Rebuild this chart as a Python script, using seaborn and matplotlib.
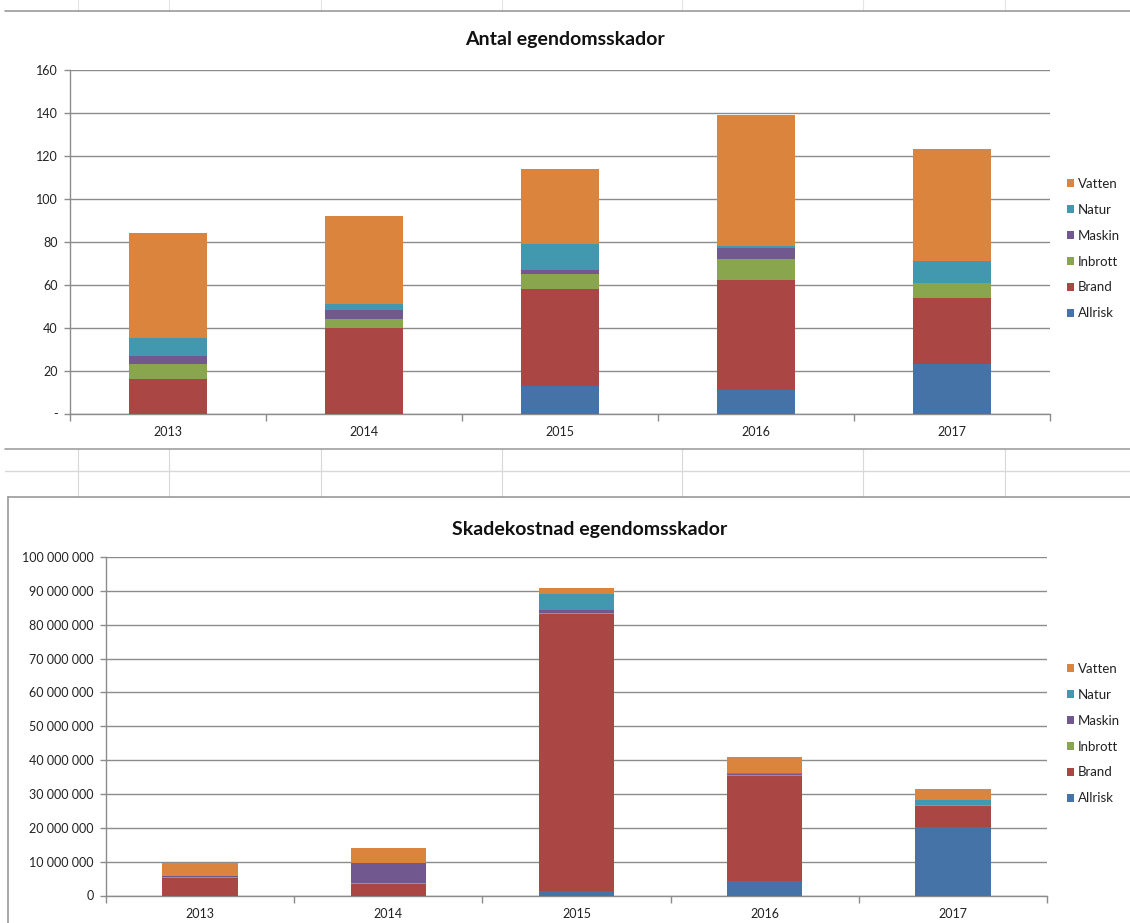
import numpy as np
import pandas as pd
import matplotlib
matplotlib.use("Agg")
import matplotlib.pyplot as plt
from matplotlib.patches import Patch
from matplotlib.lines import Line2D
import seaborn as sns

# ---------------- data ----------------
years = ["2013", "2014", "2015", "2016", "2017"]
series = ["Allrisk", "Brand", "Inbrott", "Maskin", "Natur", "Vatten"]

# Antal egendomsskador (counts)
allrisk_n = [0, 0, 13, 11, 23]
brand_n = [16, 40, 45, 51, 31]
inbrott_n = [7, 4, 7, 10, 7]
maskin_n = [4, 4, 2, 5, 0]
natur_n = [8, 3, 12, 1, 10]
vatten_n = [49, 41, 35, 61, 52]

# Skadekostnad egendomsskador (SEK)
allrisk_c = [0, 0, 1_200_000, 4_200_000, 20_200_000]
brand_c = [5_300_000, 3_400_000, 82_000_000, 31_000_000, 6_200_000]
inbrott_c = [300_000, 400_000, 200_000, 500_000, 300_000]
maskin_c = [100_000, 5_700_000, 1_000_000, 200_000, 100_000]
natur_c = [100_000, 100_000, 4_700_000, 400_000, 1_500_000]
vatten_c = [3_700_000, 4_400_000, 1_700_000, 4_600_000, 3_100_000]

top_title = "Antal egendomsskador"
bottom_title = "Skadekostnad egendomsskador"
top_yticks = [0, 20, 40, 60, 80, 100, 120, 140, 160]
top_yticklabels = ["-", "20", "40", "60", "80", "100", "120", "140", "160"]
bottom_yticks = [0, 10_000_000, 20_000_000, 30_000_000, 40_000_000, 50_000_000,
                 60_000_000, 70_000_000, 80_000_000, 90_000_000, 100_000_000]

colors = {
    "Allrisk": "#4572A7",
    "Brand": "#AA4643",
    "Inbrott": "#89A54E",
    "Maskin": "#71588F",
    "Natur": "#4198AF",
    "Vatten": "#DB843D",
}

sns.set_theme(style="white")
plt.rcParams["font.family"] = ["Lato", "DejaVu Sans"]

W, H = 1130, 923
fig = plt.figure(figsize=(W / 100, H / 100), dpi=100)
fig.patch.set_facecolor("white")


def px_axes(x0, y0, x1, y1):
    return fig.add_axes([x0 / W, 1 - y1 / H, (x1 - x0) / W, (y1 - y0) / H])


def fig_line(x0, y0, x1, y1, color, lw=1.0):
    fig.add_artist(Line2D([x0 / W, x1 / W], [1 - y0 / H, 1 - y1 / H],
                          transform=fig.transFigure, color=color, lw=lw, zorder=0))


# --------- spreadsheet background decoration ---------
col_x = [78, 169, 321, 502, 682, 863, 1005]
for cx in col_x:
    fig_line(cx, 0, cx, 11, "#e4e4e4", 0.8)
    fig_line(cx, 449, cx, 497, "#d8d8d8", 0.8)
fig_line(5, 11, W, 11, "#9a9a9a", 1.2)
fig_line(5, 449, W, 449, "#a0a0a0", 1.2)
fig_line(5, 471, W, 471, "#d8d8d8", 1.0)
fig_line(8, 497, W, 497, "#9a9a9a", 1.2)
fig_line(8, 497, 8, H, "#9a9a9a", 1.2)

TICK_FS = 9


def stacked(ax, data_dict, yticks, yticklabels, ymax):
    df = pd.DataFrame(data_dict, index=years)
    cum = df[series].cumsum(axis=1)
    # draw from the top-most cumulative series down so each segment shows
    for s in reversed(series):
        sns.barplot(x=years, y=cum[s].values, color=colors[s], width=0.4,
                    linewidth=0, saturation=1, ax=ax, zorder=3)
    ax.set_xlim(-0.5, len(years) - 0.5)
    ax.set_ylim(0, ymax)
    ax.set_yticks(yticks)
    ax.set_yticklabels(yticklabels)
    ax.yaxis.grid(True, color="#8c8c8c", lw=1.0, zorder=0)
    ax.set_axisbelow(True)
    for sp in ["top", "right"]:
        ax.spines[sp].set_visible(False)
    for sp in ["left", "bottom"]:
        ax.spines[sp].set_color("#8c8c8c")
        ax.spines[sp].set_linewidth(1.0)
    ax.set_xticks(range(len(years)))
    ax.set_xticklabels(years)
    ax.set_xticks(np.arange(-0.5, len(years)), minor=True)
    ax.tick_params(axis="x", which="major", length=0, pad=9, labelsize=TICK_FS,
                   colors="#222222")
    ax.tick_params(axis="x", which="minor", length=5, width=1.0, color="#8c8c8c",
                   direction="out", bottom=True)
    ax.tick_params(axis="y", which="major", length=4, width=1.0, color="#8c8c8c",
                   direction="out", left=True, labelsize=TICK_FS,
                   labelcolor="#222222", pad=5)
    ax.set_xlabel("")
    ax.set_ylabel("")
    ax.set_facecolor("white")


def add_legend(x_px, y_px):
    handles = [Patch(facecolor=colors[s], edgecolor="none", label=s)
               for s in reversed(series)]
    fig.legend(handles=handles, loc="upper left",
               bbox_to_anchor=(x_px / W, 1 - y_px / H),
               frameon=False, fontsize=9.5, handlelength=0.55, handleheight=0.55,
               handletextpad=0.3, labelspacing=1.05, borderaxespad=0,
               borderpad=0, labelcolor="#222222")


# ---------------- top chart ----------------
ax1 = px_axes(70, 70, 1050, 413.5)
stacked(ax1, {"Allrisk": allrisk_n, "Brand": brand_n, "Inbrott": inbrott_n,
              "Maskin": maskin_n, "Natur": natur_n, "Vatten": vatten_n},
        top_yticks, top_yticklabels, 160)
fig.text(565 / W, 1 - 40 / H, top_title, ha="center", va="center",
         fontsize=14, fontweight="bold", color="#111111")
add_legend(1067, 178)

# ---------------- bottom chart ----------------
ax2 = px_axes(106, 557, 1047, 895.5)
bottom_labels = [f"{v:,.0f}".replace(",", " ") for v in bottom_yticks]
stacked(ax2, {"Allrisk": allrisk_c, "Brand": brand_c, "Inbrott": inbrott_c,
              "Maskin": maskin_c, "Natur": natur_c, "Vatten": vatten_c},
        bottom_yticks, bottom_labels, 100_000_000)
fig.text(590 / W, 1 - 530 / H, bottom_title, ha="center", va="center",
         fontsize=14, fontweight="bold", color="#111111")
add_legend(1067, 663)

fig.savefig("out.png", dpi=100, facecolor="white")
